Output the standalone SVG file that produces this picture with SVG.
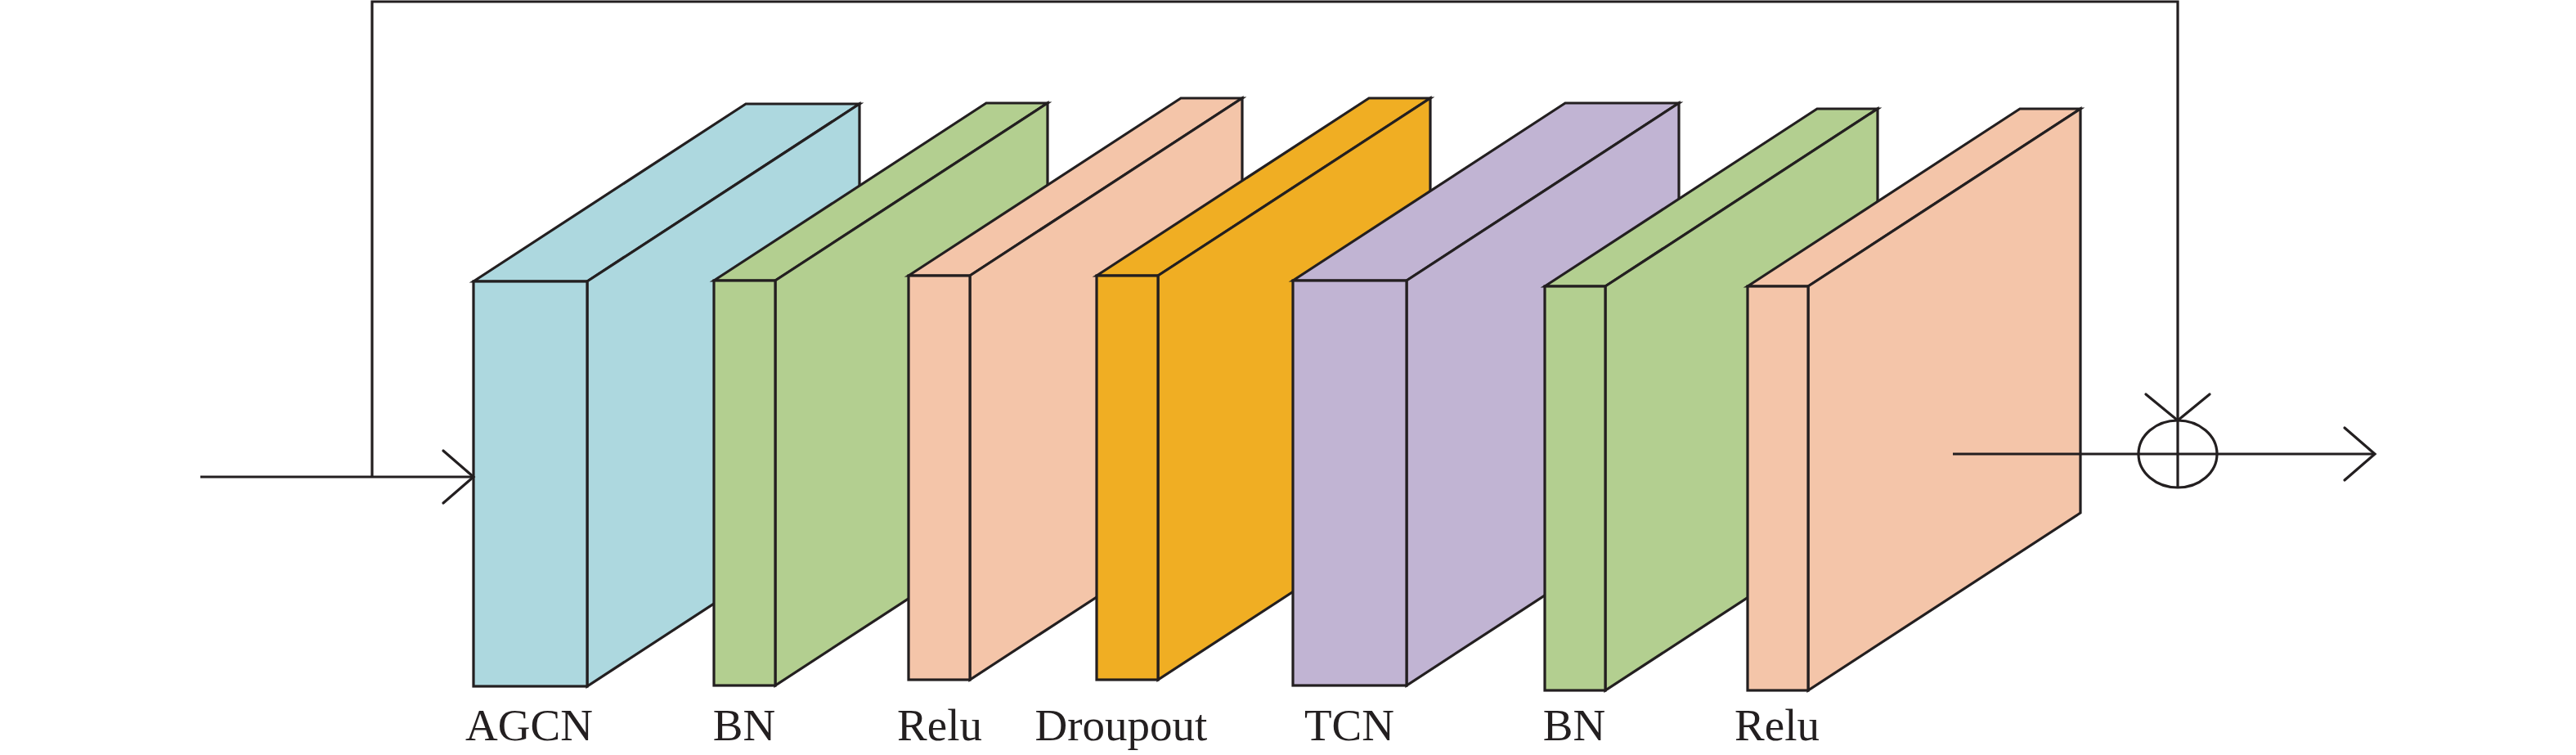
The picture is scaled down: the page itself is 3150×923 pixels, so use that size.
<svg xmlns="http://www.w3.org/2000/svg" width="3150" height="923" viewBox="0 0 3150 923">
<style>
.face{stroke:#231F20;stroke-width:3.2;stroke-linejoin:miter}
.blue{fill:#ADD8DF}
.green{fill:#B3CF90}
.peach{fill:#F4C5A9}
.orange{fill:#F0AE23}
.purple{fill:#C1B4D3}
.conn{fill:none;stroke:#231F20;stroke-width:3.2}
.lbl{font-family:"Liberation Serif","Times New Roman",serif;font-size:55px;fill:#231F20;text-anchor:middle}
</style>
<defs>
<marker id="open" markerUnits="userSpaceOnUse" viewBox="-40 -36 44 72" markerWidth="44" markerHeight="72" refX="0" refY="0" orient="auto">
<path d="M-37,-32 L0,0 L-37,32" fill="none" stroke="#231F20" stroke-width="3.2" stroke-linecap="round"/>
</marker>
</defs>
<rect width="3150" height="923" fill="#ffffff"/>

<g id="agcn">
<polygon class="face blue" points="579,344 912,127 1051,127 718,344"/>
<polygon class="face blue" points="718,344 1051,127 1051,622 718,839"/>
<rect class="face blue" x="579" y="344" width="139" height="495"/>
<text class="lbl" x="647" y="905">AGCN</text>
</g>

<g id="bn1">
<polygon class="face green" points="873,343 1206,126 1281,126 948,343"/>
<polygon class="face green" points="948,343 1281,126 1281,621 948,838"/>
<rect class="face green" x="873" y="343" width="75" height="495"/>
<text class="lbl" x="910" y="905">BN</text>
</g>

<g id="relu1">
<polygon class="face peach" points="1111,337 1444,120 1519,120 1186,337"/>
<polygon class="face peach" points="1186,337 1519,120 1519,614 1186,831"/>
<rect class="face peach" x="1111" y="337" width="75" height="494"/>
<text class="lbl" x="1149" y="905">Relu</text>
</g>

<g id="dropout">
<polygon class="face orange" points="1341,337 1674,120 1749,120 1416,337"/>
<polygon class="face orange" points="1416,337 1749,120 1749,614 1416,831"/>
<rect class="face orange" x="1341" y="337" width="75" height="494"/>
<text class="lbl" x="1371" y="905">Droupout</text>
</g>

<g id="tcn">
<polygon class="face purple" points="1581,343 1914,126 2053,126 1720,343"/>
<polygon class="face purple" points="1720,343 2053,126 2053,621 1720,838"/>
<rect class="face purple" x="1581" y="343" width="139" height="495"/>
<text class="lbl" x="1650" y="905">TCN</text>
</g>

<g id="bn2">
<polygon class="face green" points="1889,350 2222,133 2296,133 1963,350"/>
<polygon class="face green" points="1963,350 2296,133 2296,627 1963,844"/>
<rect class="face green" x="1889" y="350" width="74" height="494"/>
<text class="lbl" x="1925" y="905">BN</text>
</g>

<g id="relu2">
<polygon class="face peach" points="2137,350 2470,133 2544,133 2211,350"/>
<polygon class="face peach" points="2211,350 2544,133 2544,627 2211,844"/>
<rect class="face peach" x="2137" y="350" width="74" height="494"/>
<text class="lbl" x="2173" y="905">Relu</text>
</g>

<g id="sum">
<ellipse cx="2663" cy="555" rx="48" ry="41" fill="none" stroke="#231F20" stroke-width="3.2"/>
<line x1="2663" y1="514" x2="2663" y2="597" stroke="#231F20" stroke-width="3.2"/>
</g>

<g id="connectors">
<path class="conn" d="M245,583 L579,583" marker-end="url(#open)"/>
<path class="conn" d="M455,583 L455,2 L2663,2 L2663,514"/>
<path class="conn" d="M2624,482 L2663,514 L2702,482" stroke-linecap="round"/>
<path class="conn" d="M2388,555 L2904,555" marker-end="url(#open)"/>
</g>
</svg>
